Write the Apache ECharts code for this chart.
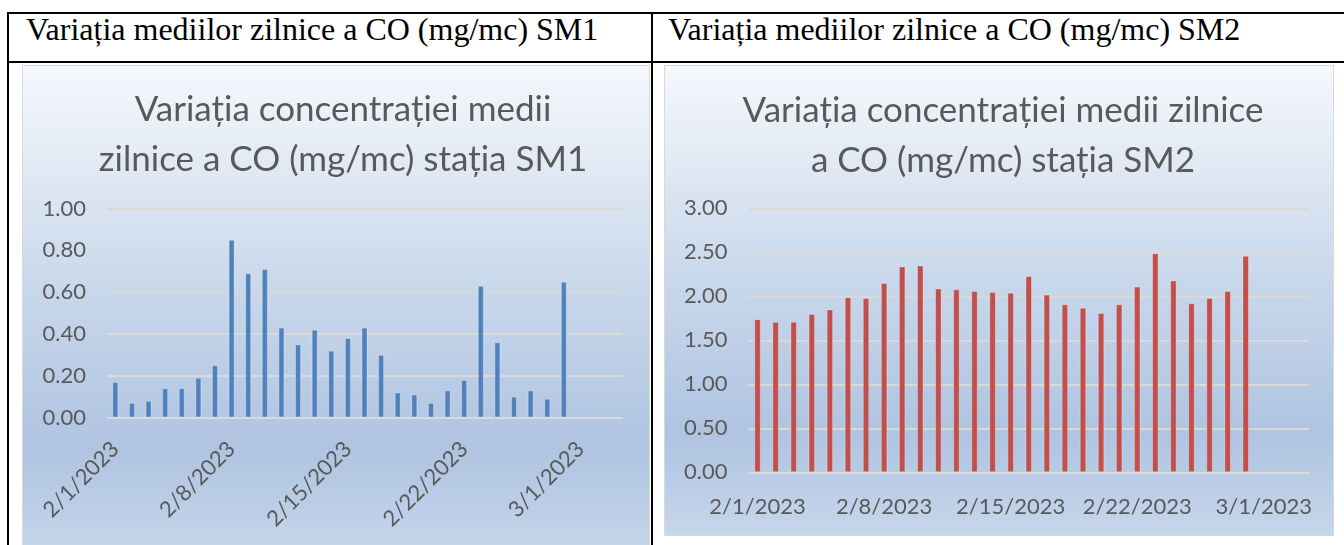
<!DOCTYPE html>
<html>
<head>
<meta charset="UTF-8">
<title>Variația mediilor zilnice a CO (mg/mc)</title>
<script src="https://cdn.jsdelivr.net/npm/echarts@6/dist/echarts.min.js"></script>
<style>
body { margin: 0; width: 1344px; height: 545px; overflow: hidden; background: #fff; position: relative; }
.line { position: absolute; background: #000; }
.head { position: absolute; top: 13px; font-family: "Liberation Serif", "Times New Roman", serif; font-size: 32px; line-height: 32px; color: #000; white-space: nowrap; }
.chart { position: absolute; border: 1px solid #d9d9d9; }
</style>
</head>
<body>
<div class="line" style="left:7px;top:12px;width:1337px;height:2px"></div>
<div class="line" style="left:7px;top:61px;width:1337px;height:2px"></div>
<div class="line" style="left:7px;top:12px;width:2px;height:533px"></div>
<div class="line" style="left:651px;top:12px;width:2px;height:533px"></div>
<div class="head" style="left:26px">Variația mediilor zilnice a CO (mg/mc) SM1</div>
<div class="head" style="left:668px">Variația mediilor zilnice a CO (mg/mc) SM2</div>
<div id="sm1" class="chart" style="left:22px;top:65px;width:626px;height:490px"></div>
<div id="sm2" class="chart" style="left:664px;top:65px;width:668px;height:469px"></div>
<script type="text/javascript">
// zilele de pe axa (axa Excel merge pana la 3/3)
var categories = ['2/1/2023', '2/2/2023', '2/3/2023', '2/4/2023', '2/5/2023', '2/6/2023', '2/7/2023',
    '2/8/2023', '2/9/2023', '2/10/2023', '2/11/2023', '2/12/2023', '2/13/2023', '2/14/2023',
    '2/15/2023', '2/16/2023', '2/17/2023', '2/18/2023', '2/19/2023', '2/20/2023', '2/21/2023',
    '2/22/2023', '2/23/2023', '2/24/2023', '2/25/2023', '2/26/2023', '2/27/2023', '2/28/2023',
    '3/1/2023', '3/2/2023', '3/3/2023'];
var sm1Values = [0.17, 0.07, 0.08, 0.14, 0.14, 0.19, 0.25, 0.85, 0.69, 0.71, 0.43, 0.35, 0.42, 0.32,
    0.38, 0.43, 0.30, 0.12, 0.11, 0.07, 0.13, 0.18, 0.63, 0.36, 0.10, 0.13, 0.09, 0.65];
var sm2Values = [1.74, 1.71, 1.71, 1.80, 1.85, 1.99, 1.98, 2.15, 2.34, 2.35, 2.09, 2.08, 2.06, 2.05,
    2.04, 2.23, 2.02, 1.91, 1.87, 1.81, 1.91, 2.11, 2.49, 2.18, 1.92, 1.98, 2.06, 2.46];
var sm1Ticks = { min: 0, max: 1, interval: 0.2 };
var sm2Ticks = { min: 0, max: 3, interval: 0.5 };

var font = 'Lato, "Open Sans", sans-serif';
var textColor = '#595959';

function background() {
    return {
        type: 'linear', x: 0, y: 0, x2: 0, y2: 1,
        colorStops: [
            { offset: 0, color: '#f5f8fc' },
            { offset: 0.45, color: '#c9d8eb' },
            { offset: 0.78, color: '#afc4e1' },
            { offset: 1, color: '#c6d6eb' }
        ]
    };
}

function makeOption(cfg) {
    return {
        animation: false,
        backgroundColor: background(),
        title: {
            text: cfg.title,
            left: cfg.titleX,
            top: cfg.titleY,
            padding: 0,
            textAlign: 'center',
            textStyle: {
                fontFamily: font,
                fontSize: 35,
                fontWeight: 'normal',
                color: textColor,
                lineHeight: 50
            }
        },
        grid: cfg.grid,
        xAxis: {
            type: 'category',
            data: categories,
            boundaryGap: true,
            axisLine: { lineStyle: { color: '#d9d9d9', width: 2 } },
            axisTick: { show: false },
            axisLabel: {
                interval: 6,
                rotate: cfg.rotate,
                margin: cfg.labelMargin,
                fontFamily: font,
                fontSize: 22,
                color: textColor
            }
        },
        yAxis: {
            type: 'value',
            min: cfg.ticks.min,
            max: cfg.ticks.max,
            interval: cfg.ticks.interval,
            axisLine: { show: false },
            axisTick: { show: false },
            splitLine: { lineStyle: { color: '#d9d9d9', width: 2 } },
            axisLabel: {
                margin: 21,
                fontFamily: font,
                fontSize: 22,
                color: textColor,
                formatter: function (v) { return v.toFixed(2); }
            }
        },
        series: [{
            type: 'bar',
            data: cfg.values,
            barWidth: cfg.barWidth,
            itemStyle: {
                color: cfg.color,
                borderColor: 'rgba(255,255,255,0.3)',
                borderWidth: 1
            }
        }]
    };
}

var chart1 = echarts.init(document.getElementById('sm1'));
chart1.setOption(makeOption({
    title: 'Variația concentrației medii\nzilnice a CO (mg/mc) stația SM1',
    titleX: 320,
    titleY: 19,
    grid: { left: 84, right: 27, top: 142.5, height: 209 },
    ticks: sm1Ticks,
    values: sm1Values,
    color: '#4f81bd',
    barWidth: 6,
    rotate: 45,
    labelMargin: 28
}));

var chart2 = echarts.init(document.getElementById('sm2'));
chart2.setOption(makeOption({
    title: 'Variația concentrației medii zilnice\na CO (mg/mc) stația SM2',
    titleX: 338,
    titleY: 20,
    grid: { left: 83.5, right: 24, top: 142.3, height: 264 },
    ticks: sm2Ticks,
    values: sm2Values,
    color: '#c0504d',
    barWidth: 6.5,
    rotate: 0,
    labelMargin: 24
}));
</script>
</body>
</html>
